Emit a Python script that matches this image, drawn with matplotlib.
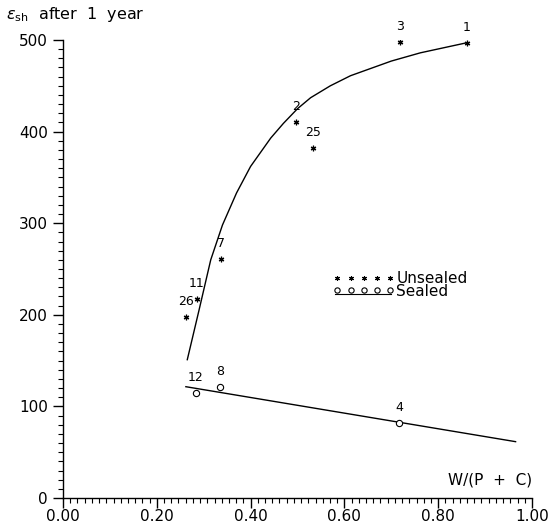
import matplotlib
matplotlib.use("Agg")
import matplotlib.pyplot as plt
import numpy as np
from matplotlib.ticker import MultipleLocator

# Unsealed specimens
unsealed_ids = ["1", "3", "2", "25", "7", "11", "26"]
unsealed_x = [0.861, 0.719, 0.496, 0.534, 0.336, 0.285, 0.262]
unsealed_y = [497, 498, 411, 382, 261, 217, 198]

# Sealed specimens
sealed_ids = ["12", "8", "4"]
sealed_x = [0.283, 0.334, 0.717]
sealed_y = [115, 121, 82]

# Fitted curve (unsealed)
curve_x = [0.265, 0.29, 0.315, 0.34, 0.37, 0.40, 0.443, 0.47, 0.50, 0.528, 0.57, 0.613, 0.70, 0.762, 0.861]
curve_y = [151, 205, 260, 298, 333, 362, 393, 409, 425, 437, 450, 461, 477, 486, 497]

# Fitted line (sealed)
line_x = [0.262, 0.965]
line_y = [121.5, 61.5]

fig = plt.figure(figsize=(5.5, 5.25), dpi=100)
ax = fig.add_axes([63/550, 1-498/525, 469/550, 458/525])
ax.set_xlim(0, 1.0)
ax.set_ylim(0, 500)

ax.plot(curve_x, curve_y, color="black", lw=1.0)
ax.plot(line_x, line_y, color="black", lw=1.0)
ax.plot(unsealed_x, unsealed_y, linestyle="none", marker=(6, 2, 0), color="black", ms=4, mew=0.9)
ax.plot(sealed_x, sealed_y, linestyle="none", marker="o", mfc="white", mec="black", ms=4.5, mew=0.8)

for lab, x, y in zip(unsealed_ids + sealed_ids, unsealed_x + sealed_x, unsealed_y + sealed_y):
    ax.annotate(lab, (x, y), xytext=(0, 11), textcoords="offset points",
                ha="center", va="center", fontsize=9)

# legend drawn as in the original
lx = np.linspace(0.585, 0.698, 5)
ax.plot(lx, [240] * 5, linestyle="none", marker=(6, 2, 0), color="black", ms=3.5, mew=0.8)
ax.plot(lx, [227] * 5, linestyle="none", marker="o", mfc="white", mec="black", ms=3.8, mew=0.8)
ax.plot([0.58, 0.70], [222.5, 222.5], color="black", lw=0.8)
ax.text(0.711, 240, "Unsealed", fontsize=11, ha="left", va="center")
ax.text(0.711, 225, "Sealed", fontsize=11, ha="left", va="center")

for s in ["top", "right"]:
    ax.spines[s].set_visible(False)
ax.spines["left"].set_linewidth(1.0)
ax.spines["bottom"].set_linewidth(1.0)

ax.xaxis.set_major_locator(MultipleLocator(0.2))
ax.xaxis.set_minor_locator(MultipleLocator(0.2 / 13))
ax.yaxis.set_major_locator(MultipleLocator(100))
ax.yaxis.set_minor_locator(MultipleLocator(10))
ax.tick_params(which="major", direction="out", length=7, width=1, labelsize=11)
ax.tick_params(which="minor", direction="out", length=3.5, width=0.8)
ax.tick_params(axis="x", which="major", pad=1)
ax.tick_params(axis="y", which="major", pad=4)
ax.xaxis.set_major_formatter(plt.FuncFormatter(lambda v, p: f"{v:.2f}"))

ax.text(1.0, 12, "W/(P  +  C)", fontsize=11, ha="right", va="bottom")
fig.text(6/550, 1-15/525, r"$\varepsilon_{\rm sh}$  after  1  year", fontsize=11.5, ha="left", va="center")

fig.savefig("out.png", dpi=100)
